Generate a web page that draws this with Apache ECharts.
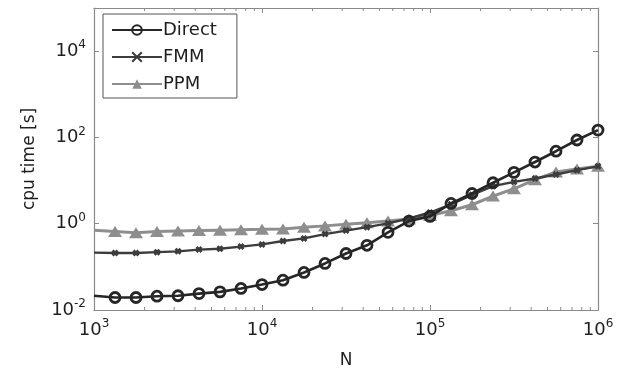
<!DOCTYPE html>
<html>
<head>
<meta charset="utf-8">
<script src="https://cdn.jsdelivr.net/npm/echarts@6/dist/echarts.min.js"></script>
<style>
  html, body { margin: 0; padding: 0; background: #fff; }
  #chart { width: 627px; height: 374px; }
</style>
</head>
<body>
<div id="chart"></div>
<script>
// problem size N (log spaced, 8 points per decade)
const sizes = [1000, 1334, 1778, 2371, 3162, 4217, 5623, 7499, 10000, 13335, 17783, 23714,
  31623, 42170, 56234, 74989, 100000, 133352, 177828, 237137, 316228, 421697, 562341, 749894, 1000000];

// cpu time [s]
const directTime = [0.0214, 0.0195, 0.0195, 0.0209, 0.0214, 0.024, 0.0263, 0.0316, 0.0389, 0.049,
  0.0741, 0.12, 0.204, 0.316, 0.631, 1.15, 1.48, 2.95, 5.01, 8.91, 15.5, 26.9, 47.9, 87.1, 148];
const fmmTime = [0.214, 0.209, 0.209, 0.219, 0.229, 0.251, 0.263, 0.295, 0.331, 0.398, 0.457,
  0.575, 0.692, 0.832, 1.02, 1.32, 1.82, 2.82, 4.68, 7.41, 9.33, 11.2, 13.8, 17.4, 21.4];
const ppmTime = [0.708, 0.661, 0.617, 0.661, 0.676, 0.692, 0.708, 0.724, 0.741, 0.759, 0.832,
  0.891, 0.977, 1.05, 1.15, 1.29, 1.55, 2.0, 2.75, 4.37, 6.46, 10.5, 15.8, 18.6, 21.4];

const seriesNames = ['Direct', 'FMM', 'PPM'];

// minor log ticks on the N axis
const minorSteps = [2, 3, 4, 5, 6, 7, 8, 9];
const decades = [1000, 10000, 100000];

const xMin = 1000, xMax = 1000000;
const yMin = 0.01, yMax = 100000;

const axisGray = '#8a8a8a';
const textColor = '#1e1e1e';
const fontFamily = '"DejaVu Sans", sans-serif';

const minorTicks = [];
decades.forEach(d => minorSteps.forEach(s => minorTicks.push([d * s, yMin])));

// edge point at 10^3 is drawn without a marker, as in the original
function toData(ys) {
  return sizes.map((n, i) => i === 0 ? { value: [n, ys[i]], symbol: 'none' } : [n, ys[i]]);
}

function powLabel(v) {
  const e = Math.round(Math.log10(v));
  return '{b|10}{e|' + e + '}';
}

const labelRich = {
  b: { fontSize: 18, color: textColor, fontFamily: fontFamily },
  e: { fontSize: 12, color: textColor, fontFamily: fontFamily, padding: [0, 0, 12, 0] }
};

const chart = echarts.init(document.getElementById('chart'));

chart.setOption({
  animation: false,
  grid: { left: 94, right: 29, top: 8, bottom: 56 },
  legend: {
    data: seriesNames,
    orient: 'vertical',
    left: 103,
    top: 14,
    backgroundColor: '#fff',
    borderColor: '#555',
    borderWidth: 1,
    borderRadius: 0,
    padding: [7, 20, 5, 8],
    itemWidth: 50,
    itemHeight: 12,
    itemGap: 9,
    z: 10,
    textStyle: { fontSize: 18, color: textColor, fontFamily: fontFamily, padding: [0, 0, 0, -4] }
  },
  xAxis: [
    {
      type: 'log', logBase: 10, min: xMin, max: xMax,
      name: 'N', nameLocation: 'middle', nameGap: 42,
      nameTextStyle: { fontSize: 17, color: textColor, fontFamily: fontFamily },
      axisLine: { lineStyle: { color: axisGray, width: 1.2 } },
      axisTick: { inside: true, length: 5, lineStyle: { color: axisGray } },
      axisLabel: { formatter: powLabel, rich: labelRich, margin: 8 },
      splitLine: { show: false }
    },
    {
      type: 'log', logBase: 10, min: xMin, max: xMax, position: 'top',
      axisLine: { lineStyle: { color: axisGray, width: 1.2 } },
      axisTick: { inside: true, length: 5, lineStyle: { color: axisGray } },
      axisLabel: { show: false },
      splitLine: { show: false }
    }
  ],
  yAxis: [
    {
      type: 'log', logBase: 10, min: yMin, max: yMax, interval: 2,
      name: 'cpu time [s]', nameLocation: 'middle', nameGap: 56,
      nameTextStyle: { fontSize: 17, color: textColor, fontFamily: fontFamily },
      axisLine: { lineStyle: { color: axisGray, width: 1.2 } },
      axisTick: { inside: true, length: 5, lineStyle: { color: axisGray } },
      axisLabel: { formatter: powLabel, rich: labelRich, margin: 8, showMaxLabel: false },
      splitLine: { show: false }
    },
    {
      type: 'log', logBase: 10, min: yMin, max: yMax, interval: 2, position: 'right',
      axisLine: { lineStyle: { color: axisGray, width: 1.2 } },
      axisTick: { inside: true, length: 5, lineStyle: { color: axisGray } },
      axisLabel: { show: false },
      splitLine: { show: false }
    }
  ],
  series: [
    {
      name: 'Direct', type: 'line', data: toData(directTime),
      symbol: 'circle', symbolSize: 10,
      lineStyle: { color: '#262626', width: 2.6 },
      itemStyle: { color: 'rgba(255,255,255,0)', borderColor: '#262626', borderWidth: 2.8 },
      z: 4
    },
    {
      name: 'FMM', type: 'line', data: toData(fmmTime),
      symbol: 'path://M0,0L10,10M10,0L0,10', symbolSize: 5,
      lineStyle: { color: '#3c3c3c', width: 2.4 },
      itemStyle: { color: '#3c3c3c', borderColor: '#3c3c3c', borderWidth: 2.8 },
      z: 3
    },
    {
      name: 'PPM', type: 'line', data: toData(ppmTime),
      symbol: 'triangle', symbolSize: [14, 11],
      lineStyle: { color: '#8e8e8e', width: 3 },
      itemStyle: { color: '#8e8e8e' },
      z: 2
    },
    {
      type: 'custom', data: minorTicks, silent: true, clip: false, z: 1,
      renderItem: function (params, api) {
        const v = api.value(0);
        const bottom = api.coord([v, yMin]);
        const top = api.coord([v, yMax]);
        const style = { stroke: axisGray, lineWidth: 1 };
        return {
          type: 'group',
          children: [
            { type: 'line', shape: { x1: bottom[0], y1: bottom[1], x2: bottom[0], y2: bottom[1] - 3 }, style: style },
            { type: 'line', shape: { x1: top[0], y1: top[1], x2: top[0], y2: top[1] + 3 }, style: style }
          ]
        };
      }
    }
  ]
});
</script>
</body>
</html>
